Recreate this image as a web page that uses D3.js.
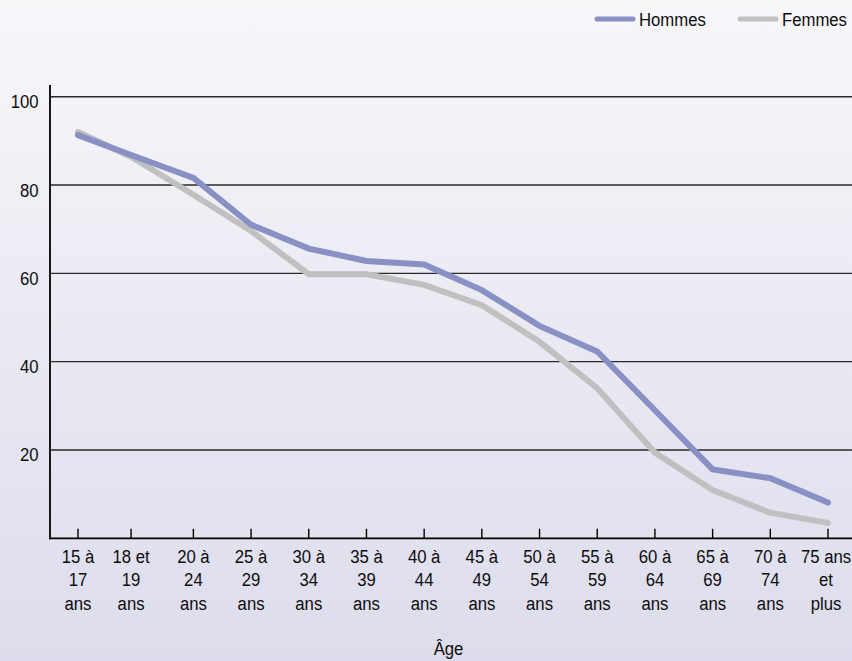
<!DOCTYPE html>
<html>
<head>
<meta charset="utf-8">
<script src="https://cdn.jsdelivr.net/npm/d3@7"></script>
<style>
  html, body { margin: 0; padding: 0; }
  body { width: 852px; height: 661px; overflow: hidden; }
  svg text { font-family: "Liberation Sans", Arial, sans-serif; fill: #0d0d0d; font-size: 19px; }
</style>
</head>
<body>
<svg id="chart" width="852" height="661"></svg>
<script>
// Age groups (one label line per array entry)
const ageGroups = [
  ["15 à", "17", "ans"], ["18 et", "19", "ans"], ["20 à", "24", "ans"],
  ["25 à", "29", "ans"], ["30 à", "34", "ans"], ["35 à", "39", "ans"],
  ["40 à", "44", "ans"], ["45 à", "49", "ans"], ["50 à", "54", "ans"],
  ["55 à", "59", "ans"], ["60 à", "64", "ans"], ["65 à", "69", "ans"],
  ["70 à", "74", "ans"], ["75 ans", "et", "plus"]
];
// Position of each age group along the age axis (18-19 is a short group)
const ageSlot = [0, 0.92, 2, 3, 4, 5, 6, 7, 8, 9, 10, 11, 12, 13];

const hommes = [91.3, 86.8, 81.6, 71.0, 65.6, 62.8, 62.0, 56.2, 48.1, 42.3, 29.0, 15.6, 13.6, 8.1];
const femmes = [92.0, 86.4, 77.8, 69.6, 59.8, 59.8, 57.4, 52.8, 44.5, 34.0, 19.4, 10.9, 5.8, 3.5];

const yTicks = [20, 40, 60, 80, 100];
const seriesNames = ["Hommes", "Femmes"];
const seriesColors = ["#8890c4", "#c0c0c0"];

const svg = d3.select("#chart");
const W = 852, H = 661;
const NARROW = 0.88; // horizontal squeeze for a condensed look

// condensed text helper: lines stacked with a fixed leading
function label(parent, x, y, lines, anchor) {
  const t = parent.append("text")
    .attr("transform", `translate(${x},${y}) scale(${NARROW},1)`)
    .attr("text-anchor", anchor);
  t.selectAll("tspan").data([].concat(lines)).join("tspan")
    .attr("x", 0).attr("dy", (d, i) => i === 0 ? 0 : 23.8)
    .text(d => d);
  return t;
}

// background gradient
const defs = svg.append("defs");
const grad = defs.append("linearGradient").attr("id", "bg").attr("x1", 0).attr("y1", 0).attr("x2", 0).attr("y2", 1);
grad.append("stop").attr("offset", "0%").attr("stop-color", "#f7f7fa");
grad.append("stop").attr("offset", "100%").attr("stop-color", "#dddcec");
svg.append("rect").attr("width", W).attr("height", H).attr("fill", "url(#bg)");

const plotLeft = 50, plotRight = 852, plotBottom = 538.3;
const x = d3.scaleLinear().domain([0, 13]).range([78, 828]);
const y = d3.scaleLinear().domain([0, 100]).range([plotBottom, 96.7]);

// horizontal grid lines
svg.append("g").selectAll("line").data(yTicks).join("line")
  .attr("x1", plotLeft).attr("x2", plotRight)
  .attr("y1", d => y(d)).attr("y2", d => y(d))
  .attr("stroke", "#2a2a2a").attr("stroke-width", 1.4);

// y axis labels
const yl = svg.append("g");
yTicks.forEach(v => label(yl, 38.5, y(v) + 11.5, String(v), "end"));

// axes
svg.append("line").attr("x1", plotLeft).attr("x2", plotLeft)
  .attr("y1", 85).attr("y2", plotBottom + 1)
  .attr("stroke", "#000").attr("stroke-width", 1.8);
svg.append("line").attr("x1", plotLeft - 1).attr("x2", plotRight)
  .attr("y1", plotBottom).attr("y2", plotBottom)
  .attr("stroke", "#000").attr("stroke-width", 1.8);

// x ticks
svg.append("g").selectAll("line").data(ageSlot).join("line")
  .attr("x1", d => x(d)).attr("x2", d => x(d))
  .attr("y1", plotBottom - 9.5).attr("y2", plotBottom)
  .attr("stroke", "#000").attr("stroke-width", 1.4);

// x labels
const xl = svg.append("g");
ageGroups.forEach((lines, i) => {
  const cx = Math.min(x(ageSlot[i]), 826);
  label(xl, cx, 562.7, lines, "middle");
});

// axis title
label(svg, 448.5, 655, "Âge", "middle");

// series lines
const line = d3.line().x((d, i) => x(ageSlot[i])).y(d => y(d));
[femmes, hommes].forEach((vals, k) => {
  const color = k === 0 ? seriesColors[1] : seriesColors[0];
  svg.append("path").datum(vals).attr("d", line)
    .attr("fill", "none").attr("stroke", color)
    .attr("stroke-width", 6).attr("stroke-linecap", "round")
    .attr("stroke-linejoin", "miter");
});

// legend
const legendX = [597, 740];
seriesNames.forEach((name, i) => {
  svg.append("line").attr("x1", legendX[i]).attr("x2", legendX[i] + 36)
    .attr("y1", 19).attr("y2", 19)
    .attr("stroke", seriesColors[i]).attr("stroke-width", 5)
    .attr("stroke-linecap", "round");
  label(svg, legendX[i] + 42, 26, name, "start");
});
</script>
</body>
</html>
